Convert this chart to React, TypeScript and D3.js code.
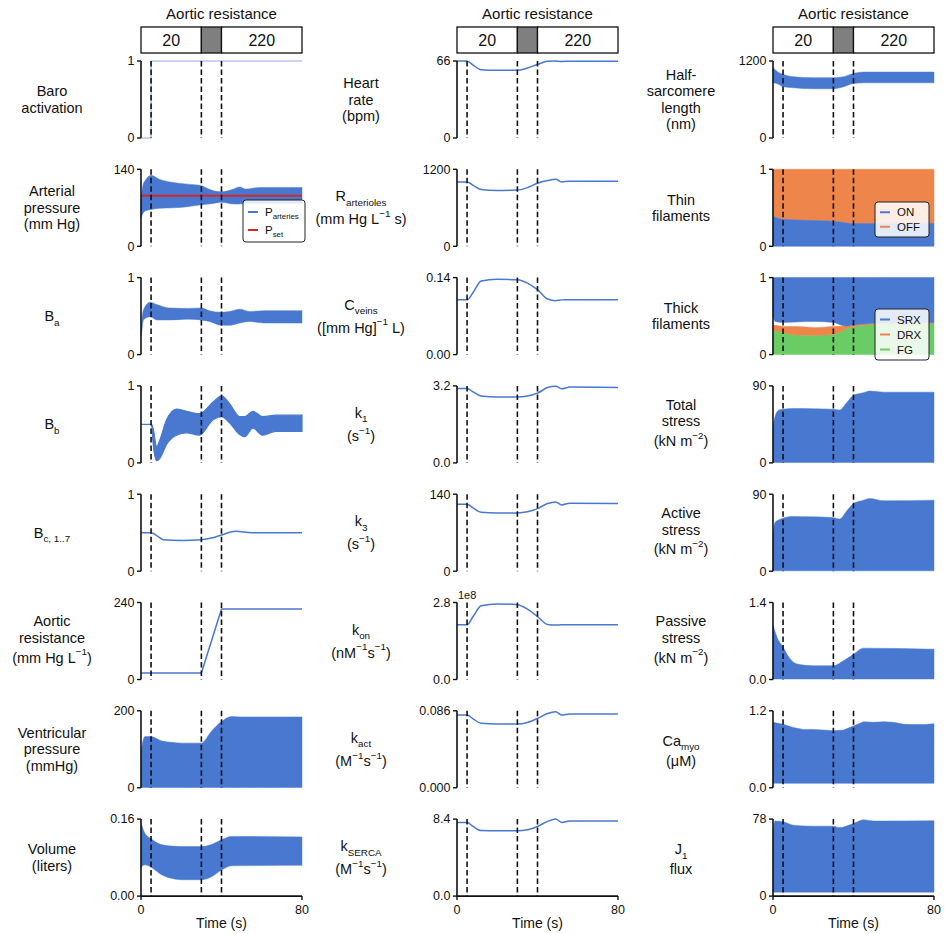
import * as d3 from "d3";

const BLUE = "#4878d0";
const ORANGE = "#ee854a";
const GREEN = "#6acc64";
const RED = "#d62728";

// protocol: aortic resistance steps at t = 30..40 s, dashed markers
const changeTimes = [5, 30, 40];
const headerSegs = [
  { from: 0, to: 30, label: "20" },
  { from: 30, to: 40, label: "" },
  { from: 40, to: 80, label: "220" },
];

// ---- column 1 ----
const baroT = [0, 5, 5, 80];
const baroV = [0, 0, 1, 1];

const arterialT = [0, 1, 2, 5, 9, 16, 23, 29, 36, 40, 46, 49, 52, 59, 80];
const arterialHi = [80, 112, 119, 129, 122, 116, 113, 111, 101, 99, 104, 108, 104, 107, 107];
const arterialLo = [52, 60, 64, 67, 69, 70, 72, 75, 78, 80, 77, 77, 78, 78, 78];
const psetT = [0, 80];
const psetV = [92, 92];

const baT = [0, 0.3, 1.2, 4.5, 7.8, 14, 24, 30, 34, 40, 44, 49, 54, 61, 80];
const baHi = [0.3, 0.4, 0.58, 0.68, 0.65, 0.605, 0.6, 0.605, 0.57, 0.55, 0.56, 0.59, 0.56, 0.57, 0.57];
const baLo = [0.25, 0.29, 0.45, 0.49, 0.45, 0.45, 0.46, 0.45, 0.43, 0.38, 0.38, 0.41, 0.43, 0.41, 0.41];

const bbT = [0, 5, 5.3, 6, 7.8, 9.4, 12.7, 17.7, 22.6, 29, 35.8, 40, 44, 49, 51.5, 55.6, 60.5, 67, 80];
const bbHi = [0.5, 0.5, 0.5, 0.45, 0.21, 0.3, 0.56, 0.7, 0.67, 0.64, 0.79, 0.87, 0.77, 0.6, 0.6, 0.67, 0.6, 0.62, 0.62];
const bbLo = [0.5, 0.5, 0.49, 0.26, 0.03, 0.06, 0.24, 0.36, 0.39, 0.36, 0.56, 0.6, 0.52, 0.37, 0.34, 0.45, 0.36, 0.41, 0.41];

const bcT = [0, 5, 8, 11, 20, 30, 35, 40, 47, 55, 80];
const bcV = [0.5, 0.5, 0.46, 0.41, 0.4, 0.41, 0.43, 0.47, 0.52, 0.5, 0.5];

const aorticT = [0, 30, 40, 80];
const aorticR = [20, 20, 220, 220];

const vpT = [0, 1, 2, 5, 7, 10, 15, 20, 30, 35, 40, 45, 50, 60, 80];
const vpHi = [90, 122, 133, 133, 130, 122, 118, 116, 116, 147, 172, 185, 184, 184, 184];
const vpLo = [1, 1, 1, 1, 1, 1, 1, 1, 1, 1, 1, 1, 1, 1, 1];

const volT = [0, 2, 5, 10, 15, 20, 30, 35, 40, 45, 80];
const volHi = [0.152, 0.13, 0.119, 0.107, 0.104, 0.103, 0.103, 0.107, 0.117, 0.124, 0.123];
const volLo = [0.06, 0.065, 0.06, 0.045, 0.037, 0.034, 0.034, 0.04, 0.054, 0.063, 0.064];

// ---- column 2 (slow regulated parameters) ----
const slowT = [0, 5, 8, 12, 20, 30, 35, 40, 45, 49, 52, 56, 80];
const heartRate = [66, 66, 62.5, 58.5, 58, 58, 60, 63, 65.8, 66, 65.6, 65.8, 65.8];
const rArterioles = [1003, 1003, 950, 885, 870, 878, 915, 983, 1024, 1045, 1003, 1014, 1014];
const cVeins = [0.0996, 0.0996, 0.113, 0.134, 0.137, 0.136, 0.13, 0.118, 0.101, 0.098, 0.0995, 0.0996, 0.0996];
const k1 = [3.09, 3.09, 2.95, 2.78, 2.74, 2.74, 2.78, 2.9, 3.13, 3.19, 3.08, 3.15, 3.13];
const k3 = [121.7, 121.7, 115, 107, 106, 106, 108, 113.8, 123, 126, 120.5, 123.6, 123];
const kOn = [1.99, 1.99, 2.29, 2.68, 2.75, 2.72, 2.56, 2.29, 2.0, 1.98, 1.99, 1.99, 1.99];
const kAct = [0.0812, 0.0812, 0.077, 0.072, 0.0712, 0.0712, 0.073, 0.0775, 0.083, 0.0849, 0.0812, 0.0825, 0.0823];
const kSerca = [8.04, 8.04, 7.6, 7.15, 7.13, 7.13, 7.25, 7.6, 8.15, 8.4, 8.04, 8.2, 8.18];

// ---- column 3 (myocyte) ----
const hslT = [0, 3, 5, 10, 20, 30, 35, 40, 45, 80];
const hslHi = [1096, 1017, 991, 955, 939, 939, 955, 1007, 1028, 1028];
const hslLo = [861, 835, 798, 783, 767, 767, 798, 850, 861, 861];

const thinT = [0, 5, 20, 30, 40, 80];
const thinOn = [0.39, 0.35, 0.335, 0.326, 0.296, 0.3];

const thickT = [0, 1, 5, 12, 21, 30, 36, 40, 46, 54, 80];
const thickFg = [0.31, 0.31, 0.285, 0.254, 0.25, 0.263, 0.33, 0.364, 0.386, 0.4, 0.4];
const thickDrx = [0.38, 0.38, 0.364, 0.364, 0.35, 0.364, 0.37, 0.386, 0.4, 0.41, 0.417];
const thickSrxLo = [0.5, 0.43, 0.417, 0.425, 0.43, 0.417, 0.37, 0.386, 0.4, 0.41, 0.417];

const totalT = [0, 1, 3, 5, 10, 20, 30, 33, 37, 40, 45, 48, 55, 80];
const totalHi = [42, 54, 61.8, 62.6, 63.7, 63.3, 62.6, 61.8, 71.5, 79, 82, 84, 82.7, 82.7];
const activeHi = [44, 57, 60, 62, 64, 63.5, 62.6, 61, 71.5, 79, 83, 85, 82.3, 83];

const passiveT = [0, 2, 5, 8, 12, 20, 30, 35, 40, 45, 80];
const passiveHi = [0.99, 0.77, 0.59, 0.4, 0.28, 0.25, 0.25, 0.34, 0.46, 0.57, 0.55];

const caT = [0, 5, 10, 15, 20, 25, 30, 35, 40, 45, 50, 55, 60, 65, 70, 75, 80];
const caHi = [1.02, 0.99, 0.94, 0.91, 0.91, 0.9, 0.89, 0.9, 0.965, 1.03, 1.02, 1.03, 1.02, 0.99, 0.985, 0.985, 1.0];

const j1T = [0, 1, 5, 10, 20, 30, 33, 40, 45, 50, 80];
const j1Hi = [65, 76, 75.3, 71.8, 70.8, 70.8, 69.4, 73.5, 77.3, 76, 76.3];

// ---- layout ----
const colLeft = [141, 457, 773];
const plotW = 161;
const rowTop0 = 61;
const rowStep = 108.3;
const plotH = 77;
const labelX = [52, 361, 681];
const FONT = "'Liberation Sans', Arial, Helvetica, sans-serif";

type Seg = { t: string; s?: "sub" | "sup" };
type Line = string | Seg[];

const rich = (line: Line, size: number) => {
  if (typeof line === "string") return line;
  let shift = 0;
  return line.map((seg, i) => {
    const target = seg.s === "sub" ? size * 0.3 : seg.s === "sup" ? -size * 0.5 : 0;
    const dy = target - shift;
    shift = target;
    return (
      <tspan key={i} dy={dy} fontSize={seg.s ? size * 0.68 : size}>
        {seg.t}
      </tspan>
    );
  });
};

const inv = (pre: string, post = ")"): Seg[] => [{ t: pre }, { t: "−1", s: "sup" }, { t: post }];

const panels: any[] = [
  // column 1
  { col: 0, row: 0, label: ["Baro", "activation"], yMax: 1, ticks: ["0", "1"],
    marks: [{ kind: "line", t: baroT, v: baroV, color: BLUE, width: 1.2, opacity: 0.6, linear: true }] },
  { col: 0, row: 1, label: ["Arterial", "pressure", "(mm Hg)"], yMax: 140, ticks: ["0", "140"],
    marks: [
      { kind: "band", t: arterialT, hi: arterialHi, lo: arterialLo, color: BLUE },
      { kind: "line", t: psetT, v: psetV, color: RED, width: 2, linear: true },
    ],
    legend: { x: 243, y: 200, w: 62, h: 42, items: [
      { color: BLUE, label: [{ t: "P" }, { t: "arteries", s: "sub" }] },
      { color: RED, label: [{ t: "P" }, { t: "set", s: "sub" }] },
    ] } },
  { col: 0, row: 2, label: [[{ t: "B" }, { t: "a", s: "sub" }]], yMax: 1, ticks: ["0", "1"],
    marks: [{ kind: "band", t: baT, hi: baHi, lo: baLo, color: BLUE }] },
  { col: 0, row: 3, label: [[{ t: "B" }, { t: "b", s: "sub" }]], yMax: 1, ticks: ["0", "1"],
    marks: [{ kind: "band", t: bbT, hi: bbHi, lo: bbLo, color: BLUE, stroke: 1.2 }] },
  { col: 0, row: 4, label: [[{ t: "B" }, { t: "c, 1..7", s: "sub" }]], yMax: 1, ticks: ["0", "1"],
    marks: [{ kind: "line", t: bcT, v: bcV, color: BLUE, width: 1.5 }] },
  { col: 0, row: 5, label: ["Aortic", "resistance", inv("(mm Hg L")], yMax: 240, ticks: ["0", "240"],
    marks: [{ kind: "line", t: aorticT, v: aorticR, color: BLUE, width: 1.5, linear: true }] },
  { col: 0, row: 6, label: ["Ventricular", "pressure", "(mmHg)"], yMax: 200, ticks: ["0", "200"],
    marks: [{ kind: "band", t: vpT, hi: vpHi, lo: vpLo, color: BLUE }] },
  { col: 0, row: 7, label: ["Volume", "(liters)"], yMax: 0.16, ticks: ["0.00", "0.16"],
    marks: [{ kind: "band", t: volT, hi: volHi, lo: volLo, color: BLUE }] },

  // column 2
  { col: 1, row: 0, label: ["Heart", "rate", "(bpm)"], yMax: 66, ticks: ["0", "66"],
    marks: [{ kind: "line", t: slowT, v: heartRate, color: BLUE, width: 1.5 }] },
  { col: 1, row: 1, label: [[{ t: "R" }, { t: "arterioles", s: "sub" }], inv("(mm Hg L", " s)")], yMax: 1200, ticks: ["0", "1200"],
    marks: [{ kind: "line", t: slowT, v: rArterioles, color: BLUE, width: 1.5 }] },
  { col: 1, row: 2, label: [[{ t: "C" }, { t: "veins", s: "sub" }], inv("([mm Hg]", " L)")], yMax: 0.14, ticks: ["0.00", "0.14"],
    marks: [{ kind: "line", t: slowT, v: cVeins, color: BLUE, width: 1.5 }] },
  { col: 1, row: 3, label: [[{ t: "k" }, { t: "1", s: "sub" }], inv("(s")], yMax: 3.2, ticks: ["0.0", "3.2"],
    marks: [{ kind: "line", t: slowT, v: k1, color: BLUE, width: 1.5 }] },
  { col: 1, row: 4, label: [[{ t: "k" }, { t: "3", s: "sub" }], inv("(s")], yMax: 140, ticks: ["0", "140"],
    marks: [{ kind: "line", t: slowT, v: k3, color: BLUE, width: 1.5 }] },
  { col: 1, row: 5, label: [[{ t: "k" }, { t: "on", s: "sub" }],
      [{ t: "(nM" }, { t: "−1", s: "sup" }, { t: "s" }, { t: "−1", s: "sup" }, { t: ")" }]],
    yMax: 2.8, ticks: ["0.0", "2.8"], offset: "1e8",
    marks: [{ kind: "line", t: slowT, v: kOn, color: BLUE, width: 1.5 }] },
  { col: 1, row: 6, label: [[{ t: "k" }, { t: "act", s: "sub" }],
      [{ t: "(M" }, { t: "−1", s: "sup" }, { t: "s" }, { t: "−1", s: "sup" }, { t: ")" }]],
    yMax: 0.086, ticks: ["0.000", "0.086"],
    marks: [{ kind: "line", t: slowT, v: kAct, color: BLUE, width: 1.5 }] },
  { col: 1, row: 7, label: [[{ t: "k" }, { t: "SERCA", s: "sub" }],
      [{ t: "(M" }, { t: "−1", s: "sup" }, { t: "s" }, { t: "−1", s: "sup" }, { t: ")" }]],
    yMax: 8.4, ticks: ["0.0", "8.4"],
    marks: [{ kind: "line", t: slowT, v: kSerca, color: BLUE, width: 1.5 }] },

  // column 3
  { col: 2, row: 0, label: ["Half-", "sarcomere", "length", "(nm)"], yMax: 1200, ticks: ["0", "1200"],
    marks: [{ kind: "band", t: hslT, hi: hslHi, lo: hslLo, color: BLUE }] },
  { col: 2, row: 1, label: ["Thin", "filaments"], yMax: 1, ticks: ["0", "1"],
    marks: [
      { kind: "band", t: thinT, hi: 1, lo: thinOn, color: ORANGE },
      { kind: "band", t: thinT, hi: thinOn, lo: 0, color: BLUE },
    ],
    legend: { x: 875, y: 202, w: 54, h: 35, items: [
      { color: BLUE, label: "ON" }, { color: ORANGE, label: "OFF" },
    ] } },
  { col: 2, row: 2, label: ["Thick", "filaments"], yMax: 1, ticks: ["0", "1"],
    marks: [
      { kind: "band", t: thickT, hi: thickFg, lo: 0, color: GREEN },
      { kind: "band", t: thickT, hi: thickDrx, lo: thickFg, color: ORANGE },
      { kind: "band", t: thickT, hi: 1, lo: thickSrxLo, color: BLUE },
    ],
    legend: { x: 875, y: 309, w: 54, h: 51, items: [
      { color: BLUE, label: "SRX" }, { color: ORANGE, label: "DRX" }, { color: GREEN, label: "FG" },
    ] } },
  { col: 2, row: 3, label: ["Total", "stress", [{ t: "(kN m" }, { t: "−2", s: "sup" }, { t: ")" }]], yMax: 90, ticks: ["0", "90"],
    marks: [{ kind: "band", t: totalT, hi: totalHi, lo: 0.5, color: BLUE }] },
  { col: 2, row: 4, label: ["Active", "stress", [{ t: "(kN m" }, { t: "−2", s: "sup" }, { t: ")" }]], yMax: 90, ticks: ["0", "90"],
    marks: [{ kind: "band", t: totalT, hi: activeHi, lo: 0.5, color: BLUE }] },
  { col: 2, row: 5, label: ["Passive", "stress", [{ t: "(kN m" }, { t: "−2", s: "sup" }, { t: ")" }]], yMax: 1.4, ticks: ["0.0", "1.4"],
    marks: [{ kind: "band", t: passiveT, hi: passiveHi, lo: 0.01, color: BLUE }] },
  { col: 2, row: 6, label: [[{ t: "Ca" }, { t: "myo", s: "sub" }], "(μM)"], yMax: 1.2, ticks: ["0.0", "1.2"],
    marks: [{ kind: "band", t: caT, hi: caHi, lo: 0.07, color: BLUE, linearBand: true }] },
  { col: 2, row: 7, label: [[{ t: "J" }, { t: "1", s: "sub" }], "flux"], yMax: 78, ticks: ["0", "78"],
    marks: [{ kind: "band", t: j1T, hi: j1Hi, lo: 4, color: BLUE }] },
];

const isRich = (l: Line) => typeof l !== "string" && l.some((s) => s.s);

function RowLabel({ p }: { p: any }) {
  const size = 14.5;
  const top = rowTop0 + p.row * rowStep;
  const mid = top + plotH / 2;
  const heights = p.label.map((l: Line) => (isRich(l) ? 23 : 16.5));
  const total = d3.sum(heights);
  let cursor = mid - total / 2;
  return (
    <g fontSize={size} textAnchor="middle" fill="#111">
      {p.label.map((l: Line, i: number) => {
        const cy = cursor + heights[i] / 2;
        cursor += heights[i];
        return (
          <text key={i} x={labelX[p.col]} y={cy + size * 0.35}>
            {rich(l, size)}
          </text>
        );
      })}
    </g>
  );
}

function Legend({ lg }: { lg: any }) {
  const step = (lg.h - 6) / lg.items.length;
  return (
    <g>
      <rect x={lg.x} y={lg.y} width={lg.w} height={lg.h} rx={3} fill="#fff" fillOpacity={0.85} stroke="#222" strokeWidth={1} />
      {lg.items.map((it: any, i: number) => {
        const cy = lg.y + 3 + step * (i + 0.5);
        return (
          <g key={i}>
            <line x1={lg.x + 5} x2={lg.x + 15} y1={cy} y2={cy} stroke={it.color} strokeWidth={2} />
            <text x={lg.x + 22} y={cy + 4} fontSize={11.5} fill="#111">
              {rich(it.label, 11.5)}
            </text>
          </g>
        );
      })}
    </g>
  );
}

function Panel({ p }: { p: any }) {
  const x0 = colLeft[p.col];
  const top = rowTop0 + p.row * rowStep;
  const bottom = top + plotH;
  const x = d3.scaleLinear().domain([0, 80]).range([x0, x0 + plotW]);
  const y = d3.scaleLinear().domain([0, p.yMax]).range([bottom, top]);
  const isLast = p.row === 7;

  return (
    <g>
      {p.marks.map((m: any, i: number) => {
        if (m.kind === "line") {
          const gen = d3
            .line<number>()
            .x((_, j) => x(m.t[j]))
            .y((v) => y(v))
            .curve(m.linear ? d3.curveLinear : d3.curveMonotoneX);
          return (
            <path key={i} d={gen(m.v) || ""} fill="none" stroke={m.color} strokeWidth={m.width}
              strokeOpacity={m.opacity ?? 1} strokeLinejoin="round" />
          );
        }
        const hi = (j: number) => (Array.isArray(m.hi) ? m.hi[j] : m.hi);
        const lo = (j: number) => (Array.isArray(m.lo) ? m.lo[j] : m.lo);
        const area = d3
          .area<number>()
          .x((d) => x(m.t[d]))
          .y0((d) => y(lo(d)))
          .y1((d) => y(hi(d)))
          .curve(m.linearBand ? d3.curveLinear : d3.curveMonotoneX);
        return <path key={i} d={area(d3.range(m.t.length)) || ""} fill={m.color} stroke={m.color} strokeWidth={m.stroke ?? 0.5} />;
      })}

      {changeTimes.map((t) => (
        <line key={t} x1={x(t)} x2={x(t)} y1={top} y2={bottom} stroke="#111" strokeWidth={1.6} strokeDasharray="5.5,3" />
      ))}

      {p.legend && <Legend lg={p.legend} />}

      {/* y axis */}
      <line x1={x0} x2={x0} y1={top} y2={bottom} stroke="#111" strokeWidth={1.6} />
      {[0, p.yMax].map((v, i) => (
        <g key={i}>
          <line x1={x0 - 4} x2={x0} y1={y(v)} y2={y(v)} stroke="#111" strokeWidth={1.4} />
          <text x={x0 - 6.5} y={y(v) + 4.3} fontSize={12.5} textAnchor="end" fill="#111">
            {p.ticks[i]}
          </text>
        </g>
      ))}
      {p.offset && (
        <text x={x0 + 1} y={top - 4} fontSize={11} fill="#111">
          {p.offset}
        </text>
      )}

      {/* x axis on the bottom row */}
      {isLast && (
        <g>
          <line x1={x0} x2={x0 + plotW} y1={bottom} y2={bottom} stroke="#111" strokeWidth={1.6} />
          {x.domain().map((v) => (
            <g key={v}>
              <line x1={x(v)} x2={x(v)} y1={bottom} y2={bottom + 4} stroke="#111" strokeWidth={1.4} />
              <text x={x(v)} y={bottom + 18} fontSize={12.5} textAnchor="middle" fill="#111">
                {v}
              </text>
            </g>
          ))}
          <text x={x0 + plotW / 2} y={bottom + 32} fontSize={14} textAnchor="middle" fill="#111">
            Time (s)
          </text>
        </g>
      )}
    </g>
  );
}

function Header({ col }: { col: number }) {
  const x0 = colLeft[col];
  const x = d3.scaleLinear().domain([0, 80]).range([x0, x0 + plotW]);
  return (
    <g>
      <text x={x0 + plotW / 2} y={19} fontSize={15} textAnchor="middle" fill="#111">
        Aortic resistance
      </text>
      {headerSegs.map((s, i) => (
        <g key={i}>
          <rect x={x(s.from)} y={27} width={x(s.to) - x(s.from)} height={26}
            fill={s.label ? "#fff" : "#7f7f7f"} stroke="#111" strokeWidth={1.3} />
          {s.label && (
            <text x={(x(s.from) + x(s.to)) / 2} y={46} fontSize={16} textAnchor="middle" fill="#111">
              {s.label}
            </text>
          )}
        </g>
      ))}
    </g>
  );
}

export default function App() {
  return (
    <svg width={945} height={934} style={{ position: "absolute", left: 0, top: 0, background: "#fff" }} fontFamily={FONT}>
      {[0, 1, 2].map((c) => (
        <Header key={c} col={c} />
      ))}
      {panels.map((p, i) => (
        <g key={i}>
          <RowLabel p={p} />
          <Panel p={p} />
        </g>
      ))}
    </svg>
  );
}
